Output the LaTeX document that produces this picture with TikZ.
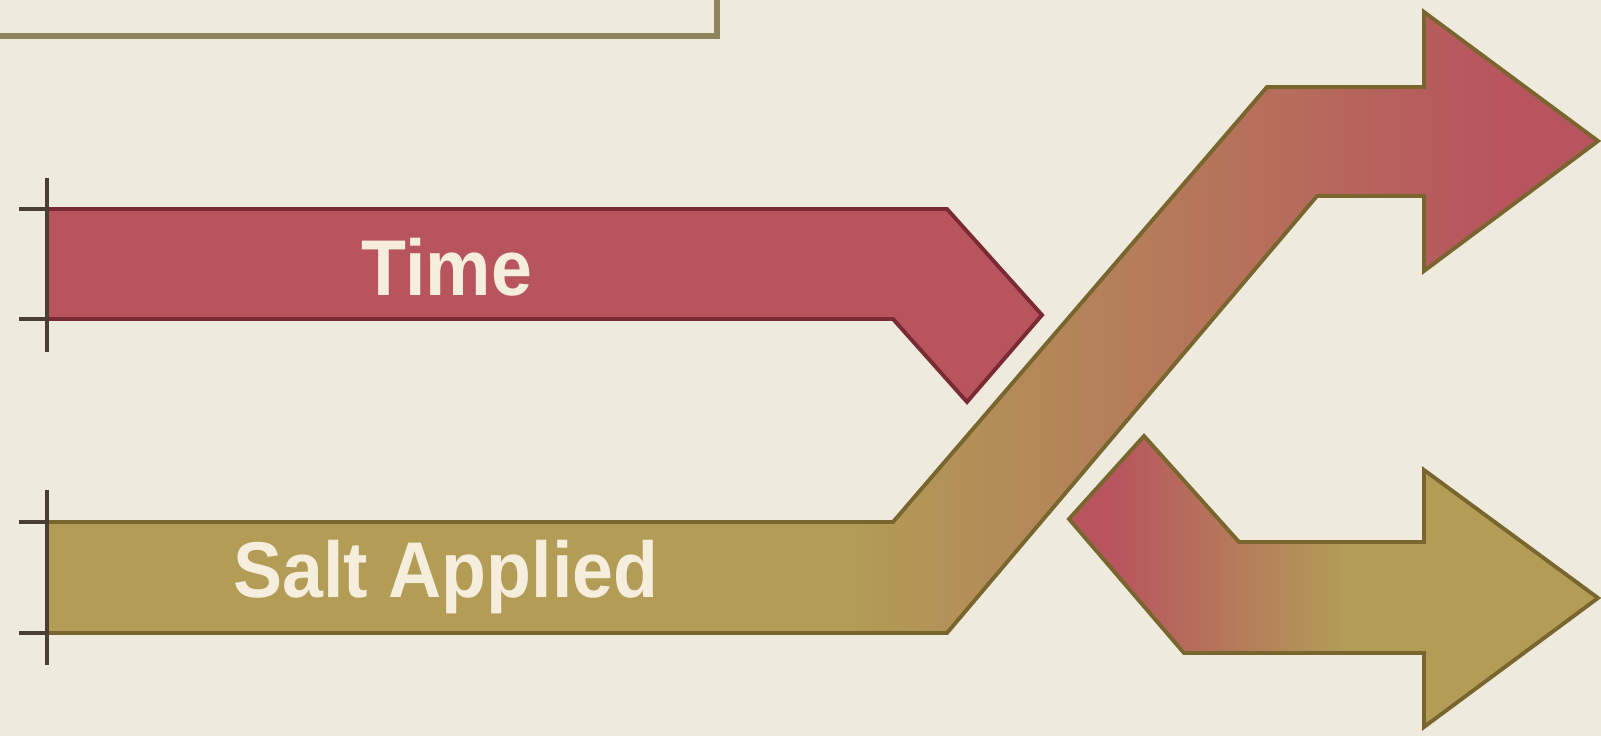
\documentclass[tikz,border=0pt]{standalone}
\usepackage{fontspec}
\newfontfamily\barfont{Liberation Sans}[FakeStretch=0.93]
\definecolor{paper}{RGB}{238,234,221}
\definecolor{timered}{RGB}{184,84,94}
\definecolor{timeline}{RGB}{122,42,50}
\definecolor{saltgold}{RGB}{178,156,86}
\definecolor{saltline}{RGB}{120,102,46}
\definecolor{boxline}{RGB}{143,132,94}
\definecolor{tickgray}{RGB}{72,62,52}
\definecolor{labelcream}{RGB}{245,238,220}
% path bbox spans 25bp..75bp of these shadings
\pgfdeclarehorizontalshading{saltshade}{100bp}{color(0bp)=(saltgold); color(51bp)=(saltgold); color(72bp)=(timered); color(100bp)=(timered)}
\pgfdeclarehorizontalshading{swapshade}{100bp}{color(0bp)=(timered); color(29bp)=(timered); color(51bp)=(saltgold); color(100bp)=(saltgold)}

\begin{document}
\begin{tikzpicture}[line join=miter,
  bar/.style={line width=1.1pt},
  tick/.style={tickgray,line width=0.9pt},
  barlabel/.style={labelcream,font=\barfont\bfseries\fontsize{22.5}{27}\selectfont}]
  \useasboundingbox (0,0) rectangle (16.01,7.36);
  \fill[paper] (0,0) rectangle (16.01,7.36);
  % caption box, cut by the top edge
  \draw[boxline,line width=1.8pt] (-0.2,7.6) rectangle (7.17,7.00);
  % time bar
  \coordinate (T1) at (0.47,5.27);
  \coordinate (T2) at (9.47,5.27);
  \coordinate (T3) at (10.42,4.21);
  \coordinate (T4) at (9.67,3.34);
  \coordinate (T5) at (8.93,4.17);
  \coordinate (T6) at (0.47,4.17);
  \draw[bar,fill=timered,draw=timeline] (T1) -- (T2) -- (T3) -- (T4) -- (T5) -- (T6) -- cycle;
  % salt bar, crossing up to the top arrow
  \coordinate (S1) at (0.47,2.14);
  \coordinate (S2) at (8.93,2.14);
  \coordinate (S3) at (12.67,6.49);
  \coordinate (S4) at (14.24,6.49);
  \coordinate (S5) at (14.24,7.24);
  \coordinate (S6) at (15.98,5.95);
  \coordinate (S7) at (14.24,4.65);
  \coordinate (S8) at (14.24,5.40);
  \coordinate (S9) at (13.17,5.40);
  \coordinate (S10) at (9.47,1.03);
  \coordinate (S11) at (0.47,1.03);
  \draw[bar,shading=saltshade,draw=saltline] (S1) -- (S2) -- (S3) -- (S4) -- (S5) -- (S6) -- (S7) -- (S8) -- (S9) -- (S10) -- (S11) -- cycle;
  % lower arrow
  \coordinate (L1) at (11.44,3.00);
  \coordinate (L2) at (12.39,1.94);
  \coordinate (L3) at (14.24,1.94);
  \coordinate (L4) at (14.24,2.66);
  \coordinate (L5) at (15.98,1.38);
  \coordinate (L6) at (14.24,0.09);
  \coordinate (L7) at (14.24,0.83);
  \coordinate (L8) at (11.84,0.83);
  \coordinate (L9) at (10.69,2.17);
  \draw[bar,shading=swapshade,draw=saltline] (L1) -- (L2) -- (L3) -- (L4) -- (L5) -- (L6) -- (L7) -- (L8) -- (L9) -- cycle;
  % crop ticks
  \draw[tick] (0.47,5.58) -- (0.47,3.84);
  \draw[tick] (0.19,5.27) -- (T1);
  \draw[tick] (0.19,4.17) -- (T6);
  \draw[tick] (0.47,2.46) -- (0.47,0.71);
  \draw[tick] (0.19,2.14) -- (S1);
  \draw[tick] (0.19,1.03) -- (S11);
  \node[barlabel] (time) at (4.47,4.69) {Time};
  \node[barlabel] (salt) at (4.46,1.59) {Salt Applied};
\end{tikzpicture}
\end{document}
